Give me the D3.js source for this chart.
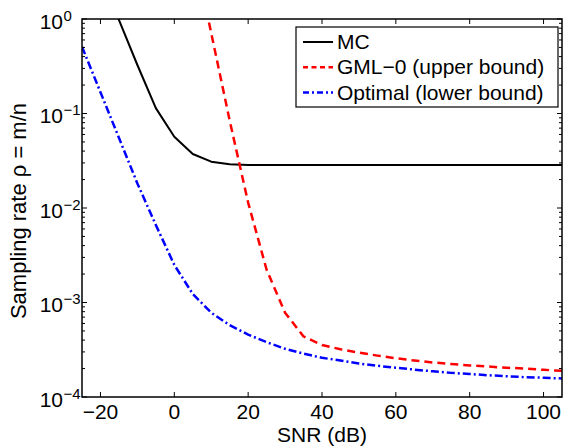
<!DOCTYPE html>
<html><head><meta charset="utf-8">
<script src="https://cdn.jsdelivr.net/npm/d3@7"></script>
<style>body{margin:0;background:#fff}text{font-family:"Liberation Sans",Arial,sans-serif;fill:#000}</style>
</head><body>
<svg id="c" width="563" height="447"></svg>
<script>
const snrMC = [-20,-15,-10,-5,0,5,10,15,20,25,30,35,40,45,50,55,60,65,70,75,80,85,90,95,100,105];
const valMC = [3.0,0.98,0.326,0.114,0.0568,0.0373,0.0309,0.029,0.0285,0.0285,0.0285,0.0285,0.0285,0.0285,0.0285,0.0285,0.0285,0.0285,0.0285,0.0285,0.0285,0.0285,0.0285,0.0285,0.0285,0.0285];
const snrGML = [5,10,15,20,25,30,35,40,45,50,55,60,65,70,75,80,85,90,95,100,105];
const valGML = [5.9,0.71,0.084,0.0114,0.00222,7.8e-4,4.37e-4,3.55e-4,3.2e-4,2.95e-4,2.74e-4,2.57e-4,2.43e-4,2.32e-4,2.23e-4,2.16e-4,2.10e-4,2.04e-4,2.0e-4,1.94e-4,1.89e-4];
const snrOpt = [-25,-20,-15,-10,-5,0,5,10,15,20,25,30,35,40,45,50,55,60,65,70,75,80,85,90,95,100,105];
const valOpt = [0.509,0.168,0.0553,0.0182,0.0066,0.0025,0.00123,7.8e-4,5.75e-4,4.57e-4,3.8e-4,3.24e-4,2.88e-4,2.6e-4,2.43e-4,2.26e-4,2.14e-4,2.04e-4,1.95e-4,1.87e-4,1.80e-4,1.75e-4,1.70e-4,1.66e-4,1.62e-4,1.60e-4,1.57e-4];
const xTicks = [-20,0,20,40,60,80,100];
const yExps = [0,-1,-2,-3,-4];
const legendLabels = ["MC","GML\u22120 (upper bound)","Optimal (lower bound)"];
const xLabel = "SNR (dB)";
const yLabel = "Sampling rate \u03c1 = m/n";

const L=82,R=562,T=19,B=397;
const svg=d3.select("#c");
const x=d3.scaleLinear().domain([-25,105]).range([L,R]);
const y=d3.scaleLog().domain([1e-4,1]).range([B,T]);

svg.append("clipPath").attr("id","clip").append("rect").attr("x",L).attr("y",T).attr("width",R-L).attr("height",B-T);

const series=[
 {s:snrMC,v:valMC,color:"#000",dash:null,w:2},
 {s:snrGML,v:valGML,color:"#ff0000",dash:"8,5",w:2.5},
 {s:snrOpt,v:valOpt,color:"#0000ff",dash:"8,3,2,3",w:2.5}
];
const line=d3.line().x(d=>x(d[0])).y(d=>y(d[1]));
const g=svg.append("g").attr("clip-path","url(#clip)");
series.forEach(sr=>{
  g.append("path").datum(sr.s.map((s,i)=>[s,sr.v[i]])).attr("d",line)
   .attr("fill","none").attr("stroke",sr.color).attr("stroke-width",sr.w)
   .attr("stroke-dasharray",sr.dash).attr("stroke-linejoin","round");
});

// axes box
const ax=svg.append("g");
ax.append("rect").attr("x",L).attr("y",T).attr("width",R-L).attr("height",B-T).attr("fill","none").attr("stroke","#000").attr("stroke-width",1.5);
// x ticks
xTicks.forEach(t=>{
  const xx=x(t);
  ax.append("line").attr("x1",xx).attr("x2",xx).attr("y1",B).attr("y2",B-5).attr("stroke","#000");
  ax.append("line").attr("x1",xx).attr("x2",xx).attr("y1",T).attr("y2",T+5).attr("stroke","#000");
  ax.append("text").attr("x",xx).attr("y",B+22).attr("text-anchor","middle").attr("font-size",21)
    .text(t<0?"\u2212"+Math.abs(t):String(t));
});
// y ticks
yExps.forEach(e=>{
  const yy=y(Math.pow(10,e));
  ax.append("line").attr("x1",L).attr("x2",L+5).attr("y1",yy).attr("y2",yy).attr("stroke","#000");
  ax.append("line").attr("x1",R).attr("x2",R-5).attr("y1",yy).attr("y2",yy).attr("stroke","#000");
  ax.append("text").attr("x",63).attr("y",yy+9.5).attr("text-anchor","end").attr("font-size",21).text("10");
  ax.append("text").attr("x",63.5).attr("y",yy+1.5).attr("text-anchor","start").attr("font-size",15)
    .text(e<0?"\u2212"+Math.abs(e):String(e));
  if(e>-4){
    for(let k=2;k<=9;k++){
      const ym=y(k*Math.pow(10,e-1));
      ax.append("line").attr("x1",L).attr("x2",L+3).attr("y1",ym).attr("y2",ym).attr("stroke","#000");
      ax.append("line").attr("x1",R).attr("x2",R-3).attr("y1",ym).attr("y2",ym).attr("stroke","#000");
    }
  }
});
// labels
svg.append("text").attr("x",(L+R)/2).attr("y",442).attr("text-anchor","middle").attr("font-size",21).text(xLabel);
svg.append("text").attr("transform","translate(26,"+((T+B)/2+3)+") rotate(-90)").attr("text-anchor","middle").attr("font-size",22).text(yLabel);

// legend
const lg=svg.append("g");
lg.append("rect").attr("x",296).attr("y",27).attr("width",262).attr("height",80).attr("fill","#fff").attr("stroke","#000").attr("stroke-width",1.2);
legendLabels.forEach((lab,i)=>{
  const sr=series[i];
  const yy=42+i*25.3;
  lg.append("line").attr("x1",303).attr("x2",333).attr("y1",yy).attr("y2",yy)
    .attr("stroke",sr.color).attr("stroke-width",sr.w).attr("stroke-dasharray",i==1?"5,3.5":(i==2?"6,3,2,3":null));
  lg.append("text").attr("x",337).attr("y",yy+7).attr("font-size",21).text(lab);
});
</script>
</body></html>
